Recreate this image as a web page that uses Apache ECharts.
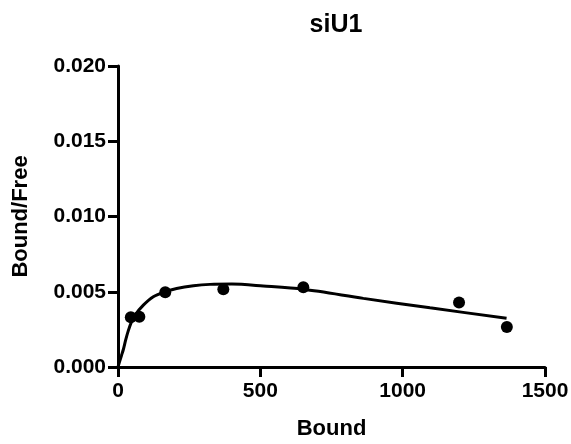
<!DOCTYPE html>
<html>
<head>
<meta charset="utf-8">
<script src="https://cdn.jsdelivr.net/npm/echarts@6/dist/echarts.min.js"></script>
<style>
  html, body { margin: 0; padding: 0; background: #fff; }
  #chart { width: 571px; height: 444px; }
</style>
</head>
<body>
<div id="chart"></div>
<script>
// measured points (Bound, Bound/Free)
let boundPts = [45, 75, 166, 370, 651, 1198, 1366]
let ratioPts = [0.00330, 0.00334, 0.00497, 0.00517, 0.00530, 0.00428, 0.00265]

// fitted curve
let curveX = [0, 3, 7, 12, 19, 27, 36, 47, 60, 89, 124, 165, 206, 265, 323, 400, 510, 651, 862, 1096, 1365]
let curveY = [0, 0.0002, 0.00045, 0.00075, 0.00118, 0.00180, 0.00240, 0.00298, 0.00345, 0.00411, 0.00467, 0.00500, 0.00522, 0.00540, 0.00549, 0.00551, 0.00538, 0.00516, 0.00456, 0.00393, 0.00324]

let xTicks = [0, 500, 1000, 1500]
let yTicks = [0, 0.005, 0.010, 0.015, 0.020]

let font = 'Liberation Sans, Arial, sans-serif'

let points = boundPts.map((b, i) => [b, ratioPts[i]])
let curve = curveX.map((b, i) => [b, curveY[i]])

var myChart = echarts.init(document.getElementById('chart'))

var option = {
  animation: false,
  title: {
    text: 'siU1',
    left: 331,
    top: 8,
    textAlign: 'center',
    textStyle: { fontFamily: font, fontWeight: 'bold', fontSize: 25, color: '#000' }
  },
  grid: { left: 118, right: 26, top: 66, bottom: 77, outerBoundsMode: 'none' },
  xAxis: {
    type: 'value',
    min: xTicks[0],
    max: xTicks[xTicks.length - 1],
    interval: 500,
    name: 'Bound',
    nameLocation: 'middle',
    nameGap: 51,
    nameTextStyle: { fontFamily: font, fontWeight: 'bold', fontSize: 22, color: '#000' },
    axisLine: { show: true, onZero: false, lineStyle: { color: '#000', width: 3 } },
    axisTick: { show: true, length: 10, lineStyle: { color: '#000', width: 3 } },
    axisLabel: {
      margin: 14, fontFamily: font, fontWeight: 'bold', fontSize: 21, color: '#000',
      formatter: v => String(v)
    },
    splitLine: { show: false }
  },
  yAxis: {
    type: 'value',
    min: yTicks[0],
    max: yTicks[yTicks.length - 1],
    interval: 0.005,
    name: 'Bound/Free',
    nameLocation: 'middle',
    nameGap: 86,
    nameTextStyle: { fontFamily: font, fontWeight: 'bold', fontSize: 22, color: '#000' },
    axisLine: { show: true, lineStyle: { color: '#000', width: 3 } },
    axisTick: { show: true, length: 10, lineStyle: { color: '#000', width: 3 } },
    axisLabel: {
      margin: 12,
      fontFamily: font, fontWeight: 'bold', fontSize: 21, color: '#000',
      formatter: v => v.toFixed(3)
    },
    splitLine: { show: false }
  },
  series: [{
    type: 'line',
    data: curve,
    smooth: 0.3,
    symbol: 'none',
    lineStyle: { color: '#000', width: 3 },
    z: 2
  }, {
    type: 'scatter',
    data: points,
    symbol: 'circle',
    symbolSize: 12,
    itemStyle: { color: '#000', opacity: 1 },
    z: 3
  }]
}

myChart.setOption(option)
</script>
</body>
</html>
